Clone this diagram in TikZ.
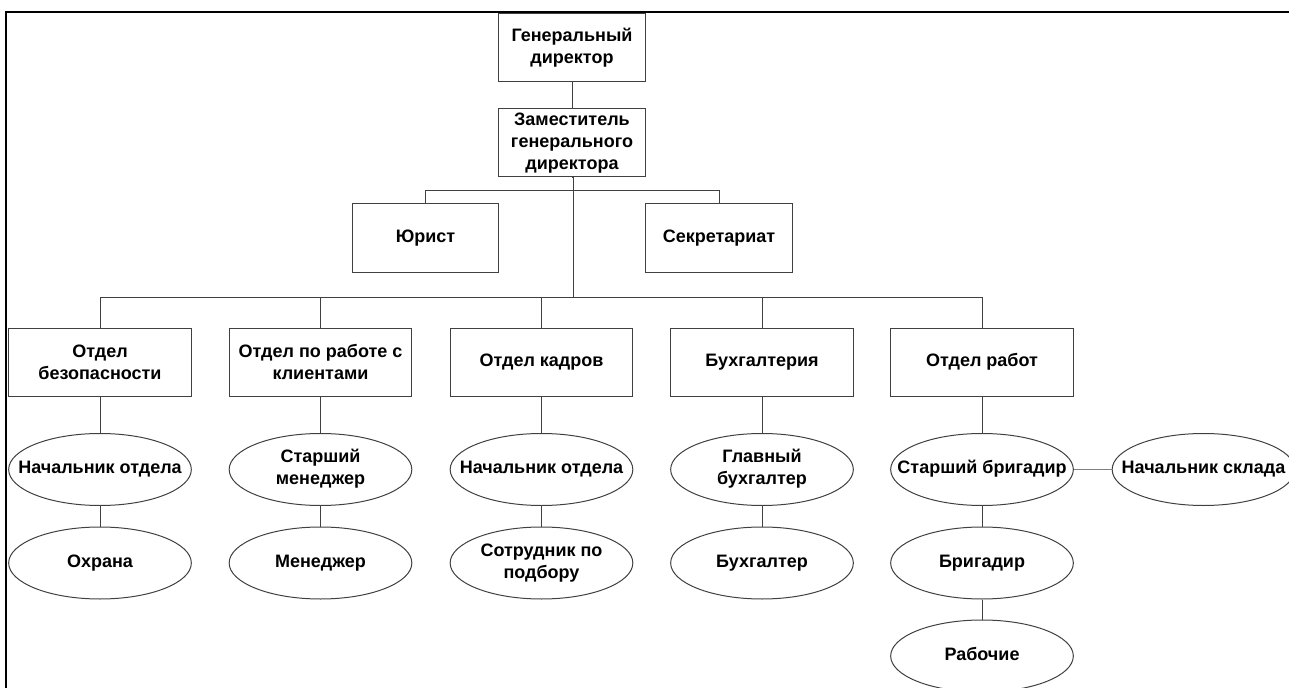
\documentclass[tikz,border=0pt]{standalone}
\usepackage{fontspec}
\setmainfont{Liberation Sans}
\usetikzlibrary{shapes.geometric}

\newcommand{\ctext}[1]{\makebox[0pt]{\begin{tabular}{@{}c@{}}#1\end{tabular}}}

\begin{document}
\begin{tikzpicture}[x=0.75pt, y=-0.75pt,
    every node/.style={font=\fontsize{13.5}{16.5}\selectfont\bfseries},
    box/.style={draw=black!75, line width=0.75pt, rectangle, minimum width=137pt, minimum height=51pt, inner sep=2pt, align=center},
    ell/.style={draw=black!75, line width=0.75pt, ellipse, minimum width=137pt, minimum height=54pt, inner sep=0pt},
    link/.style={draw=black!75, line width=0.75pt}]
    \useasboundingbox (0,0) rectangle (1289,688);

    % frame
    \draw[line width=1.6pt] (6.3,688) -- (6.3,12.3) -- (1289,12.3);

    \node[box, minimum width=110pt] (gen) at (572,48) {Генеральный\\директор};
    \node[box, minimum width=110pt] (dep) at (572,143) {Заместитель\\генерального\\директора};

    \node[box, minimum width=110pt] (yur) at (425.5,238) {Юрист};
    \node[box, minimum width=110pt] (sec) at (719,238) {Секретариат};

    \node[box] (d1) at (100,362) {Отдел\\безопасности};
    \node[box] (d2) at (320.5,362) {Отдел по работе с\\клиентами};
    \node[box] (d3) at (541.5,362) {Отдел кадров};
    \node[box] (d4) at (762,362) {Бухгалтерия};
    \node[box] (d5) at (982,362) {Отдел работ};

    \node[ell] (n1) at (100,469.5) {\ctext{Начальник отдела}};
    \node[ell] (n2) at (320.5,469.5) {\ctext{Старший\\менеджер}};
    \node[ell] (n3) at (541.5,469.5) {\ctext{Начальник отдела}};
    \node[ell] (n4) at (762,469.5) {\ctext{Главный\\бухгалтер}};
    \node[ell] (n5) at (982,469.5) {\ctext{Старший бригадир}};
    \node[ell] (sk) at (1203.5,469.5) {\ctext{Начальник склада}};

    \node[ell] (m1) at (100,563) {\ctext{Охрана}};
    \node[ell] (m2) at (320.5,563) {\ctext{Менеджер}};
    \node[ell] (m3) at (541.5,563) {\ctext{Сотрудник по\\подбору}};
    \node[ell] (m4) at (762,563) {\ctext{Бухгалтер}};
    \node[ell] (m5) at (982,563) {\ctext{Бригадир}};
    \node[ell] (r5) at (982,656) {\ctext{Рабочие}};

    \coordinate (sbus) at (573.5,191);
    \coordinate (bus) at (573.5,297);

    \draw[link] (gen) -- (dep);
    \draw[link] (dep.south) -- (sbus |- dep.south) -- (bus);
    \draw[link] (sbus) -| (yur.north);
    \draw[link] (sbus) -| (sec.north);
    \foreach \d in {d1,d2,d3,d4,d5}
        \draw[link] (bus) -| (\d.north);

    \foreach \i in {1,...,5} {
        \draw[link] (d\i) -- (n\i);
        \draw[link] (n\i) -- (m\i);
    }
    \draw[link] (m5) -- (r5);
    \draw[link, draw=black!50] (n5) -- (sk);
\end{tikzpicture}
\end{document}
